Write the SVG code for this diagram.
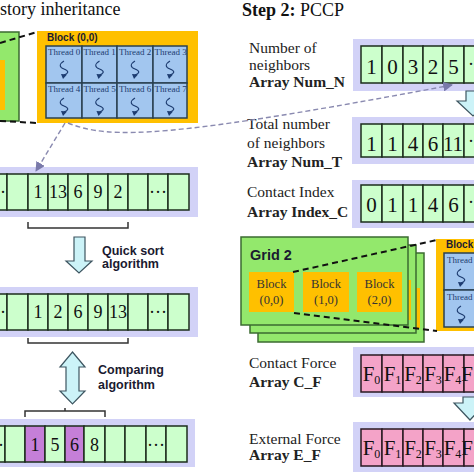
<svg xmlns="http://www.w3.org/2000/svg" xmlns:xlink="http://www.w3.org/1999/xlink" width="474" height="474" viewBox="0 0 474 474">
<style>
.cell{fill:#ccffcc;stroke:#1c2e1c;stroke-width:1.5}
.pc{fill:#c57fd8;stroke:#1c2e1c;stroke-width:1.5}
.fc{fill:#f4a3c8;stroke:#2a1a22;stroke-width:1.5}
.bg{fill:#d2d2f7}
.num{font-family:"Liberation Serif",serif;font-size:18px;text-anchor:middle;fill:#111}
.rn{font-family:"Liberation Serif",serif;font-size:21px;text-anchor:middle;fill:#111}
.dots{font-family:"Liberation Serif",serif;font-size:18px;fill:#111}
.thr{fill:#a2c6ef;stroke:#2a4050;stroke-width:1.5}
.tt{font-family:"Liberation Serif",serif;font-size:9px;fill:#1d3c70}
.lab{font-family:"Liberation Serif",serif;font-size:15.5px;fill:#222}
.b{font-weight:bold}
.sans{font-family:"Liberation Sans",Arial,sans-serif;font-weight:bold;fill:#1a1a30}
.arr{fill:#ccf3f8;stroke:#3d5560;stroke-width:1.2}
.zoom{stroke:#111;stroke-width:2;stroke-dasharray:6 4;fill:none}
.gd{stroke:#8a8ab0;stroke-width:1.4;stroke-dasharray:5 3;fill:none}
.grid{fill:#93e86c;stroke:#3b6b30;stroke-width:1.5}
.org{fill:#ffc000}
.blk{font-family:"Liberation Serif",serif;font-size:12.5px;text-anchor:middle;fill:#333}
.br{stroke:#333;stroke-width:1.5;fill:none}
</style>
<defs>
<g id="sq">
<path d="M0,-8 C-5,-5 -5,-2 0,0 C5,2 5,4 0,6" stroke="#1d3c70" stroke-width="1.1" fill="none"/>
<polygon points="-3,5 3,5.5 -1,10" fill="#1d3c70"/>
</g>
<marker id="ah" viewBox="0 0 10 10" refX="9" refY="5" markerWidth="7" markerHeight="7" orient="auto">
<path d="M0,0 L10,5 L0,10 z" fill="#7a7aaa"/>
</marker>
</defs>

<!-- titles -->
<text x="0" y="15" font-family="Liberation Serif,serif" font-size="18" fill="#111">story inheritance</text>
<text x="242" y="16" font-family="Liberation Serif,serif" font-size="18" fill="#111"><tspan font-weight="bold">Step 2:</tspan> PCCP</text>

<!-- left grid (cut) -->
<g id="grid1">
<rect class="grid" x="-6" y="32" width="25" height="89"/>
<rect class="org" x="-6" y="60" width="11" height="50"/>
</g>

<!-- Block (0,0) of step 1 -->
<g id="block1">
<rect class="org" x="37" y="31" width="161" height="92"/>
<text class="sans" x="47" y="41" font-size="10">Block (0,0)</text>
<rect class="thr" x="46" y="46" width="36" height="37"/>
<rect class="thr" x="82" y="46" width="35" height="37"/>
<rect class="thr" x="117" y="46" width="36" height="37"/>
<rect class="thr" x="153" y="46" width="34" height="37"/>
<rect class="thr" x="46" y="83" width="36" height="35"/>
<rect class="thr" x="82" y="83" width="35" height="35"/>
<rect class="thr" x="117" y="83" width="36" height="35"/>
<rect class="thr" x="153" y="83" width="34" height="35"/>
<text class="tt" x="48" y="55">Thread 0</text>
<text class="tt" x="83.5" y="55">Thread 1</text>
<text class="tt" x="119" y="55">Thread 2</text>
<text class="tt" x="154.5" y="55">Thread 3</text>
<text class="tt" x="48" y="92">Thread 4</text>
<text class="tt" x="83.5" y="92">Thread 5</text>
<text class="tt" x="119" y="92">Thread 6</text>
<text class="tt" x="154.5" y="92">Thread 7</text>
<use xlink:href="#sq" x="64" y="69"/>
<use xlink:href="#sq" x="99.5" y="69"/>
<use xlink:href="#sq" x="135" y="69"/>
<use xlink:href="#sq" x="170" y="69"/>
<use xlink:href="#sq" x="64" y="106"/>
<use xlink:href="#sq" x="99.5" y="106"/>
<use xlink:href="#sq" x="135" y="106"/>
<use xlink:href="#sq" x="170" y="106"/>
</g>

<!-- left array 1 -->
<g id="arr1">
<rect class="bg" x="-2" y="167" width="200" height="50"/>
<rect class="cell" x="-14" y="174" width="21" height="36"/>
<rect class="cell" x="7" y="174" width="21" height="36"/>
<rect class="cell" x="28" y="174" width="20" height="36"/>
<rect class="cell" x="48" y="174" width="20" height="36"/>
<rect class="cell" x="68" y="174" width="20" height="36"/>
<rect class="cell" x="88" y="174" width="20" height="36"/>
<rect class="cell" x="108" y="174" width="20" height="36"/>
<rect class="cell" x="128" y="174" width="20" height="36"/>
<rect class="cell" x="148" y="174" width="20" height="36"/>
<rect class="cell" x="168" y="174" width="21" height="36"/>
<text class="num" x="-3" y="198">···</text>
<text class="num" x="38" y="198">1</text>
<text class="num" x="58" y="198">13</text>
<text class="num" x="78" y="198">6</text>
<text class="num" x="98" y="198">9</text>
<text class="num" x="118" y="198">2</text>
<text class="num" x="158" y="198">···</text>
</g>

<!-- left array 2 -->
<g id="arr2">
<rect class="bg" x="-2" y="287" width="200" height="50"/>
<rect class="cell" x="-14" y="294" width="21" height="36"/>
<rect class="cell" x="7" y="294" width="21" height="36"/>
<rect class="cell" x="28" y="294" width="20" height="36"/>
<rect class="cell" x="48" y="294" width="20" height="36"/>
<rect class="cell" x="68" y="294" width="20" height="36"/>
<rect class="cell" x="88" y="294" width="20" height="36"/>
<rect class="cell" x="108" y="294" width="20" height="36"/>
<rect class="cell" x="128" y="294" width="20" height="36"/>
<rect class="cell" x="148" y="294" width="20" height="36"/>
<rect class="cell" x="168" y="294" width="21" height="36"/>
<text class="num" x="-3" y="318">···</text>
<text class="num" x="38" y="318">1</text>
<text class="num" x="58" y="318">2</text>
<text class="num" x="78" y="318">6</text>
<text class="num" x="98" y="318">9</text>
<text class="num" x="118" y="318">13</text>
<text class="num" x="158" y="318">···</text>
</g>

<!-- left array 3 -->
<g id="arr3">
<rect class="bg" x="-2" y="419" width="197" height="48"/>
<rect class="cell" x="-16" y="426" width="21" height="36"/>
<rect class="cell" x="5" y="426" width="20" height="36"/>
<rect class="pc" x="25" y="426" width="20" height="36"/>
<rect class="cell" x="45" y="426" width="20" height="36"/>
<rect class="pc" x="65" y="426" width="19" height="36"/>
<rect class="cell" x="84" y="426" width="21" height="36"/>
<rect class="cell" x="105" y="426" width="20" height="36"/>
<rect class="cell" x="125" y="426" width="21" height="36"/>
<rect class="cell" x="146" y="426" width="20" height="36"/>
<rect class="cell" x="166" y="426" width="21" height="36"/>
<text class="num" x="-5" y="451">···</text>
<text class="num" x="35" y="451">1</text>
<text class="num" x="55" y="451">5</text>
<text class="num" x="74.5" y="451">6</text>
<text class="num" x="94.5" y="451">8</text>
<text class="num" x="156" y="451">···</text>
</g>

<!-- brackets, arrows and algorithm labels -->
<g id="sort">
<path class="br" d="M28,222 V228 H128 V222"/>
<polygon class="arr" points="74,237 85,237 85,261 92,261 79,273 66,261 74,261"/>
<text class="sans" x="102" y="255" font-size="12.5">Quick sort</text>
<text class="sans" x="102" y="268" font-size="12.5">algorithm</text>
</g>
<g id="compare">
<path class="br" d="M28,338 V343 H128 V338"/>
<polygon class="arr" points="72.5,352 85,367 79,367 79,391 85,391 72.5,404 60,391 66,391 66,367 60,367"/>
<text class="sans" x="98" y="374" font-size="12.5">Comparing</text>
<text class="sans" x="98" y="389" font-size="12.5">algorithm</text>
<path class="br" d="M25,417 V411 H105 V417 M65,411 V408"/>
</g>

<!-- right labels -->
<g id="numN">
<text class="lab" x="249" y="53">Number of</text>
<text class="lab" x="249" y="70">neighbors</text>
<text class="lab b" x="249" y="87" font-size="15">Array Num_N</text>
<rect class="bg" x="353" y="39" width="130" height="52"/>
<rect class="cell" x="361" y="46" width="21" height="37"/>
<rect class="cell" x="382" y="46" width="21" height="37"/>
<rect class="cell" x="403" y="46" width="20" height="37"/>
<rect class="cell" x="423" y="46" width="20" height="37"/>
<rect class="cell" x="443" y="46" width="21" height="37"/>
<rect class="cell" x="464" y="46" width="21" height="37"/>
<text class="rn" x="453.5" y="74">5</text>
<text class="rn" x="371.5" y="74">1</text>
<text class="rn" x="392.5" y="74">0</text>
<text class="rn" x="413" y="74">3</text>
<text class="rn" x="433" y="74">2</text>
<text class="dots" x="468" y="70">···</text>
</g>

<g id="numT">
<text class="lab" x="247" y="129">Total number</text>
<text class="lab" x="247" y="148">of neighbors</text>
<text class="lab b" x="247" y="167" font-size="15">Array Num_T</text>
<rect class="bg" x="352" y="117" width="130" height="47"/>
<rect class="cell" x="361" y="124" width="21" height="33"/>
<rect class="cell" x="382" y="124" width="21" height="33"/>
<rect class="cell" x="403" y="124" width="20" height="33"/>
<rect class="cell" x="423" y="124" width="20" height="33"/>
<rect class="cell" x="443" y="124" width="21" height="33"/>
<rect class="cell" x="464" y="124" width="21" height="33"/>
<text class="rn" x="371.5" y="151">1</text>
<text class="rn" x="392.5" y="151">1</text>
<text class="rn" x="413" y="151">4</text>
<text class="rn" x="433" y="151">6</text>
<text class="rn" x="453" y="151" font-size="19">11</text>
<text class="dots" x="468" y="147">···</text>
</g>

<g id="indexC">
<text class="lab" x="247" y="197">Contact Index</text>
<text class="lab b" x="247" y="217" font-size="15">Array Index_C</text>
<rect class="bg" x="352" y="180" width="130" height="48"/>
<rect class="cell" x="361" y="185" width="21" height="37"/>
<rect class="cell" x="382" y="185" width="21" height="37"/>
<rect class="cell" x="403" y="185" width="20" height="37"/>
<rect class="cell" x="423" y="185" width="20" height="37"/>
<rect class="cell" x="443" y="185" width="21" height="37"/>
<rect class="cell" x="464" y="185" width="21" height="37"/>
<text class="rn" x="371.5" y="212">0</text>
<text class="rn" x="392.5" y="212">1</text>
<text class="rn" x="413" y="212">1</text>
<text class="rn" x="433" y="212">4</text>
<text class="rn" x="453.5" y="212">6</text>
<text class="dots" x="468" y="208">···</text>
</g>

<!-- arrow Num_N to Num_T -->
<polygon class="arr" points="466,91 480,91 480,101 489,101 473,116 457,101 466,101"/>

<!-- Grid 2 stack -->
<g id="grid2">
<rect class="grid" x="258" y="253" width="166" height="89"/>
<rect class="org" x="375" y="288" width="45" height="40"/>
<rect class="grid" x="250" y="245" width="166" height="88"/>
<rect class="org" x="366" y="280" width="45" height="40"/>
<rect class="grid" x="241" y="237" width="167" height="88"/>
<text class="sans" x="250" y="260" font-size="14.5" fill="#111">Grid 2</text>
<rect class="org" x="249" y="272" width="45" height="40"/>
<rect class="org" x="303" y="272" width="46" height="40"/>
<rect class="org" x="357" y="272" width="45" height="40"/>
<text class="blk" x="271.5" y="288">Block</text>
<text class="blk" x="271.5" y="304">(0,0)</text>
<text class="blk" x="326" y="288">Block</text>
<text class="blk" x="326" y="304">(1,0)</text>
<text class="blk" x="379.5" y="288">Block</text>
<text class="blk" x="379.5" y="304">(2,0)</text>
</g>

<!-- Block of grid 2 (cut) -->
<g id="block2">
<rect class="org" x="436" y="239" width="44" height="92"/>
<text class="sans" x="446" y="248" font-size="10">Block</text>
<rect class="thr" x="444" y="253" width="36" height="37"/>
<rect class="thr" x="444" y="290" width="36" height="37"/>
<text class="tt" x="447" y="263">Thread</text>
<text class="tt" x="447" y="300">Thread</text>
<use xlink:href="#sq" x="461" y="277"/>
<use xlink:href="#sq" x="461" y="314"/>
</g>

<g id="forceC">
<text class="lab" x="249" y="368">Contact Force</text>
<text class="lab b" x="249" y="387" font-size="15">Array C_F</text>
<rect class="bg" x="353" y="347" width="130" height="50"/>
<rect class="fc" x="361" y="355" width="21" height="37"/>
<rect class="fc" x="382" y="355" width="21" height="37"/>
<rect class="fc" x="403" y="355" width="20" height="37"/>
<rect class="fc" x="423" y="355" width="20" height="37"/>
<rect class="fc" x="443" y="355" width="21" height="37"/>
<rect class="fc" x="464" y="355" width="21" height="37"/>
<text class="rn" x="371.5" y="381">F<tspan font-size="12" dy="3">0</tspan></text>
<text class="rn" x="392.5" y="381">F<tspan font-size="12" dy="3">1</tspan></text>
<text class="rn" x="413" y="381">F<tspan font-size="12" dy="3">2</tspan></text>
<text class="rn" x="433" y="381">F<tspan font-size="12" dy="3">3</tspan></text>
<text class="rn" x="452.5" y="381">F<tspan font-size="12" dy="3">4</tspan></text>
<text class="rn" x="467" y="381" text-anchor="start">F</text>
</g>

<polygon class="arr" points="463,397 477,397 477,403 486,403 470,420 454,403 463,403"/>

<g id="forceE">
<text class="lab" x="249" y="444">External Force</text>
<text class="lab b" x="249" y="460" font-size="15">Array E_F</text>
<rect class="bg" x="353" y="422" width="130" height="50"/>
<rect class="fc" x="361" y="429" width="21" height="37"/>
<rect class="fc" x="382" y="429" width="21" height="37"/>
<rect class="fc" x="403" y="429" width="20" height="37"/>
<rect class="fc" x="423" y="429" width="20" height="37"/>
<rect class="fc" x="443" y="429" width="21" height="37"/>
<rect class="fc" x="464" y="429" width="21" height="37"/>
<text class="rn" x="371.5" y="455">F<tspan font-size="12" dy="3">0</tspan></text>
<text class="rn" x="392.5" y="455">F<tspan font-size="12" dy="3">1</tspan></text>
<text class="rn" x="413" y="455">F<tspan font-size="12" dy="3">2</tspan></text>
<text class="rn" x="433" y="455">F<tspan font-size="12" dy="3">3</tspan></text>
<text class="rn" x="452.5" y="455">F<tspan font-size="12" dy="3">4</tspan></text>
<text class="rn" x="467" y="455" text-anchor="start">F</text>
</g>

<!-- connectors -->
<g id="connectors">
<path class="zoom" d="M0,43 L37,32"/>
<path class="zoom" d="M0,121 L37,123"/>
<path class="zoom" d="M293,272 L437,240"/>
<path class="zoom" d="M294,313 L437,331"/>
<path class="gd" d="M65,123 L36,171" marker-end="url(#ah)"/>
<path class="gd" d="M68,123 C110,140 170,138 452,85" marker-end="url(#ah)"/>
</g>
</svg>
